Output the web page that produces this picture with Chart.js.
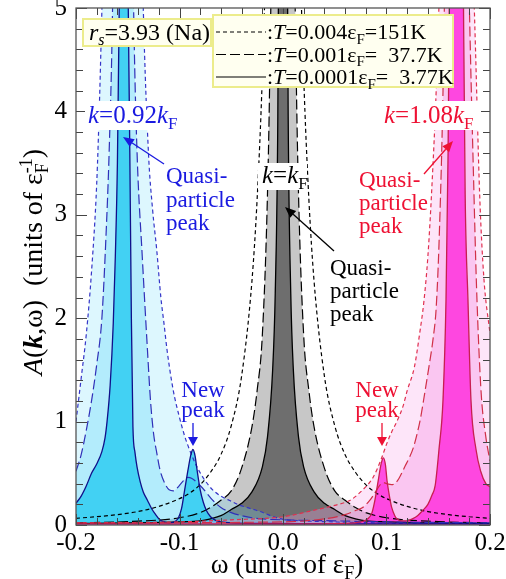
<!DOCTYPE html>
<html>
<head>
<meta charset="utf-8">
<title>Spectral function A(k,w)</title>
<style>
  body { margin: 0; background: #fff; }
  #wrap { width: 506px; height: 579px; }
</style>
<script src="https://cdn.jsdelivr.net/npm/chart.js"></script>
</head>
<body>
<div id="wrap"><canvas id="specChart" width="506" height="579"></canvas></div>
<script>
// [omega (units of eF), A (units of 1/eF)]
// k = 0.92 kF
const blueShort = [[-0.2,1.0],[-0.195,1.42],[-0.19,1.85],[-0.185,2.45],[-0.18,3.3],[-0.177,4.2],[-0.173,5.8],[-0.165,9],[-0.154,12],[-0.143,9],[-0.135,5.0],[-0.13,3.6],[-0.126,3.05],[-0.122,2.66],[-0.118,2.2],[-0.115,1.95],[-0.112,1.69],[-0.106,1.3],[-0.1,1.04],[-0.095,0.86],[-0.09,0.72],[-0.083,0.56],[-0.076,0.44],[-0.068,0.34],[-0.06,0.28],[-0.05,0.23],[-0.044,0.2],[-0.035,0.17],[-0.022,0.13],[-0.012,0.09],[0,0.055],[0.02,0.04],[0.05,0.03],[0.1,0.02],[0.2,0.015]];
const blueLong = [[-0.2,0.52],[-0.195,0.68],[-0.19,0.92],[-0.185,1.2],[-0.18,1.55],[-0.175,2.0],[-0.171,2.8],[-0.168,3.6],[-0.165,4.8],[-0.162,7],[-0.154,12],[-0.147,7],[-0.144,4.8],[-0.141,3.6],[-0.136,2.6],[-0.131,1.7],[-0.128,1.2],[-0.125,0.88],[-0.122,0.7],[-0.119,0.54],[-0.115,0.42],[-0.11,0.34],[-0.106,0.33],[-0.102,0.36],[-0.097,0.42],[-0.092,0.46],[-0.088,0.45],[-0.083,0.41],[-0.078,0.36],[-0.073,0.3],[-0.068,0.24],[-0.06,0.17],[-0.05,0.12],[-0.04,0.09],[-0.03,0.07],[-0.02,0.06],[0,0.05],[0.05,0.04],[0.1,0.03],[0.2,0.02]];
const blueSolid = [[-0.2,0.21],[-0.195,0.28],[-0.19,0.38],[-0.185,0.5],[-0.18,0.59],[-0.175,0.71],[-0.172,0.84],[-0.17,1.0],[-0.167,1.35],[-0.164,1.95],[-0.162,2.6],[-0.16,3.5],[-0.158,5.2],[-0.156,8],[-0.154,10],[-0.152,8],[-0.15,5.5],[-0.148,3.6],[-0.1465,2.0],[-0.145,0.95],[-0.143,0.7],[-0.141,0.56],[-0.138,0.42],[-0.135,0.32],[-0.131,0.24],[-0.127,0.16],[-0.123,0.1],[-0.119,0.05],[-0.115,0.03],[-0.11,0.02],[-0.105,0.03],[-0.101,0.07],[-0.098,0.16],[-0.095,0.34],[-0.092,0.52],[-0.089,0.68],[-0.087,0.73],[-0.085,0.67],[-0.083,0.53],[-0.08,0.34],[-0.077,0.22],[-0.074,0.14],[-0.07,0.08],[-0.065,0.045],[-0.06,0.03],[-0.05,0.02],[-0.02,0.015],[0.05,0.01],[0.2,0.01]];
// k = kF
const blackShort = [[-0.2,0.065],[-0.18,0.08],[-0.16,0.1],[-0.14,0.13],[-0.12,0.18],[-0.1,0.255],[-0.09,0.31],[-0.08,0.39],[-0.07,0.51],[-0.06,0.68],[-0.05,0.96],[-0.04,1.44],[-0.03,2.36],[-0.025,3.15],[-0.02,4.33],[-0.015,6.1],[-0.01,8.7],[0,13],[0.01,8.7],[0.015,6.1],[0.02,4.33],[0.025,3.15],[0.03,2.36],[0.04,1.44],[0.05,0.96],[0.06,0.68],[0.07,0.51],[0.08,0.39],[0.09,0.31],[0.1,0.255],[0.12,0.18],[0.14,0.13],[0.16,0.1],[0.18,0.08],[0.2,0.065]];
const blackLong = [[-0.2,0.02],[-0.15,0.033],[-0.1,0.07],[-0.08,0.12],[-0.07,0.17],[-0.06,0.24],[-0.05,0.33],[-0.04,0.55],[-0.03,0.95],[-0.025,1.3],[-0.02,1.83],[-0.015,3.2],[-0.0125,4.55],[-0.01,6.9],[-0.005,22],[0,40],[0.005,22],[0.01,6.9],[0.0125,4.55],[0.015,3.2],[0.02,1.83],[0.025,1.3],[0.03,0.95],[0.04,0.55],[0.05,0.33],[0.06,0.24],[0.07,0.17],[0.08,0.12],[0.1,0.07],[0.15,0.033],[0.2,0.02]];
const blackSolid = [[-0.2,0.015],[-0.15,0.02],[-0.1,0.03],[-0.08,0.04],[-0.07,0.06],[-0.06,0.09],[-0.05,0.15],[-0.04,0.21],[-0.03,0.32],[-0.02,0.56],[-0.015,0.85],[-0.01,1.5],[-0.0075,2.24],[-0.005,3.95],[-0.003,8],[0,20],[0.003,8],[0.005,3.95],[0.0075,2.24],[0.01,1.5],[0.015,0.85],[0.02,0.56],[0.03,0.32],[0.04,0.21],[0.05,0.15],[0.06,0.09],[0.07,0.06],[0.08,0.04],[0.1,0.03],[0.15,0.02],[0.2,0.015]];
// k = 1.08 kF
const redShort = [[-0.2,0.02],[-0.1,0.03],[-0.05,0.05],[0,0.08],[0.033,0.15],[0.05,0.19],[0.065,0.24],[0.075,0.32],[0.087,0.46],[0.095,0.64],[0.1,0.78],[0.105,0.9],[0.11,1.0],[0.116,1.15],[0.12,1.3],[0.127,1.53],[0.132,1.85],[0.136,2.15],[0.14,2.6],[0.144,3.3],[0.148,4.2],[0.152,5.5],[0.16,9],[0.166,12],[0.175,9],[0.182,6],[0.186,4.6],[0.19,3.2],[0.194,2.4],[0.2,1.85]];
const redLong = [[-0.2,0.02],[0,0.03],[0.04,0.06],[0.06,0.1],[0.07,0.14],[0.077,0.17],[0.084,0.24],[0.09,0.33],[0.094,0.39],[0.097,0.41],[0.1,0.4],[0.105,0.39],[0.109,0.41],[0.112,0.45],[0.118,0.57],[0.122,0.65],[0.126,0.75],[0.13,0.9],[0.133,1.04],[0.137,1.28],[0.141,1.53],[0.145,1.8],[0.148,2.1],[0.151,2.8],[0.1546,4.2],[0.158,6.5],[0.166,12],[0.175,7.5],[0.178,6],[0.181,4.6],[0.184,3.4],[0.187,2.3],[0.1913,1.3],[0.196,0.85],[0.2,0.62]];
const redSolid = [[-0.2,0.01],[0,0.01],[0.06,0.015],[0.075,0.03],[0.082,0.06],[0.086,0.12],[0.089,0.25],[0.092,0.43],[0.095,0.6],[0.097,0.65],[0.099,0.58],[0.1005,0.43],[0.103,0.27],[0.105,0.17],[0.108,0.09],[0.11,0.06],[0.115,0.04],[0.12,0.04],[0.125,0.06],[0.13,0.09],[0.135,0.14],[0.14,0.2],[0.144,0.29],[0.147,0.38],[0.1507,0.73],[0.1546,1.21],[0.1575,2.18],[0.1595,3.6],[0.161,5.5],[0.164,9],[0.168,11],[0.172,8],[0.174,5.5],[0.176,3.2],[0.1787,2.18],[0.1816,1.21],[0.1865,0.73],[0.191,0.52],[0.196,0.4],[0.2,0.37]];

const legendRows = [':T=0.004|=151K', ':T=0.001|=  37.7K', ':T=0.0001|=  3.77K'];

const FONT = '"Liberation Serif", serif';
const SHORT = [4, 3], LONG = [10, 4];

function curve(label, pts, line, dash, fillCol, order, width) {
  return {
    label: label, data: pts, borderColor: line, borderWidth: width || 1.2, borderDash: dash,
    backgroundColor: fillCol || 'rgba(0,0,0,0)', fill: fillCol ? 'origin' : false,
    pointRadius: 0, cubicInterpolationMode: 'monotone', clip: 0, order: order
  };
}

// draw text made of pieces (italic, bold, subscript, superscript)
function rich(ctx, parts, x, y, size, color, align) {
  const fnt = p => (p.i ? 'italic ' : '') + (p.b ? 'bold ' : '') +
    ((p.sub || p.sup) ? Math.round(size * 0.66) : size) + 'px ' + FONT;
  const w = parts.map(p => { ctx.font = fnt(p); return ctx.measureText(p.t).width; });
  const pos = [];
  let cx = 0;
  parts.forEach((p, k) => {
    const start = p.stack ? pos[k - 1] : cx;
    pos.push(start);
    cx = Math.max(cx, start + w[k]);
  });
  const x0 = align === 'center' ? x - cx / 2 : (align === 'right' ? x - cx : x);
  ctx.fillStyle = color; ctx.textAlign = 'left'; ctx.textBaseline = 'alphabetic';
  parts.forEach((p, k) => {
    ctx.font = fnt(p);
    const dy = p.sub ? size * 0.22 : (p.sup ? -size * 0.36 : 0);
    ctx.fillText(p.t, x0 + pos[k], y + dy);
  });
  return cx;
}

function arrow(ctx, x1, y1, x2, y2, color, head, half) {
  const a = Math.atan2(y2 - y1, x2 - x1), c = Math.cos(a), s = Math.sin(a);
  ctx.strokeStyle = color; ctx.fillStyle = color; ctx.lineWidth = 1.3; ctx.setLineDash([]);
  ctx.beginPath(); ctx.moveTo(x1, y1); ctx.lineTo(x2 - head * c, y2 - head * s); ctx.stroke();
  ctx.beginPath(); ctx.moveTo(x2, y2);
  ctx.lineTo(x2 - head * c + half * s, y2 - head * s - half * c);
  ctx.lineTo(x2 - head * c - half * s, y2 - head * s + half * c);
  ctx.closePath(); ctx.fill();
}

const frameAndNotes = {
  id: 'frameAndNotes',
  afterDatasetsDraw(chart) {
    const { ctx, chartArea: a, scales: { x, y } } = chart;
    ctx.save();
    // inner ticks on all four sides
    ctx.strokeStyle = '#444'; ctx.lineWidth = 1; ctx.setLineDash([]);
    ctx.beginPath();
    for (let i = 0; i <= 20; i++) {
      const px = Math.round(x.getPixelForValue(-0.2 + i * 0.02)) + 0.5;
      const len = i % 5 === 0 ? 11 : 7;
      ctx.moveTo(px, a.bottom); ctx.lineTo(px, a.bottom - len);
      ctx.moveTo(px, a.top); ctx.lineTo(px, a.top + len);
    }
    for (let i = 0; i <= 25; i++) {
      const py = Math.round(y.getPixelForValue(i * 0.2)) + 0.5;
      const len = i % 5 === 0 ? 11 : 7;
      ctx.moveTo(a.left, py); ctx.lineTo(a.left + len, py);
      ctx.moveTo(a.right, py); ctx.lineTo(a.right - len, py);
    }
    ctx.stroke();
    ctx.strokeStyle = '#555'; ctx.lineWidth = 1.3;
    ctx.strokeRect(a.left, a.top, a.right - a.left, a.bottom - a.top);

    // r_s box
    ctx.fillStyle = '#fffff0'; ctx.strokeStyle = '#ecec8c'; ctx.lineWidth = 2;
    ctx.fillRect(83, 19, 128, 27); ctx.strokeRect(83, 19, 128, 27);
    rich(ctx, [{ t: 'r', i: 1 }, { t: 's', i: 1, sub: 1 }, { t: '=3.93 (Na)' }], 89, 40, 24, '#000', 'left');

    // legend box
    ctx.fillStyle = '#fffff0'; ctx.strokeStyle = '#ecec8c'; ctx.lineWidth = 2;
    ctx.fillRect(213, 15, 240, 72); ctx.strokeRect(213, 15, 240, 72);
    const dashes = [SHORT, LONG, []];
    legendRows.forEach((row, k) => {
      const ly = 32 + k * 22.5;
      ctx.strokeStyle = '#000'; ctx.lineWidth = 1.1; ctx.setLineDash(dashes[k]);
      ctx.beginPath(); ctx.moveTo(216, ly); ctx.lineTo(266, ly); ctx.stroke();
      ctx.setLineDash([]);
      const bits = row.split('|');
      rich(ctx, [{ t: ':' }, { t: 'T', i: 1 }, { t: bits[0].slice(2) + 'ε' }, { t: 'F', sub: 1 }, { t: bits[1] }],
        267, ly + 7, 22, '#000', 'left');
    });

    // k labels with white backing
    ctx.fillStyle = '#fff';
    ctx.fillRect(85, 101, 108, 29);
    ctx.fillRect(258, 163, 49, 27);
    ctx.fillRect(381, 101, 100, 29);
    const blue = '#1a1ae0', red = '#ee1133';
    rich(ctx, [{ t: 'k', i: 1 }, { t: '=0.92' }, { t: 'k', i: 1 }, { t: 'F', sub: 1 }], 88, 123, 25, blue, 'left');
    rich(ctx, [{ t: 'k', i: 1 }, { t: '=' }, { t: 'k', i: 1 }, { t: 'F', sub: 1 }], 262, 183, 25, '#000', 'left');
    rich(ctx, [{ t: 'k', i: 1 }, { t: '=1.08' }, { t: 'k', i: 1 }, { t: 'F', sub: 1 }], 384, 123, 25, red, 'left');

    // quasi-particle labels
    const qp = ['Quasi-', 'particle', 'peak'];
    qp.forEach((s, k) => {
      rich(ctx, [{ t: s }], 166, 183 + k * 23.5, 23, blue, 'left');
      rich(ctx, [{ t: s }], 330, 275 + k * 23, 23, '#000', 'left');
      rich(ctx, [{ t: s }], 359, 187 + k * 23, 23, red, 'left');
    });
    arrow(ctx, 164, 164, 123, 137, blue, 11, 4.5);
    arrow(ctx, 334, 251, 285, 207, '#000', 11, 4.5);
    arrow(ctx, 424, 174, 453, 141, red, 11, 4.5);

    // new peak labels
    ['New', 'peak'].forEach((s, k) => {
      rich(ctx, [{ t: s }], 203, 397 + k * 20, 23, blue, 'center');
      rich(ctx, [{ t: s }], 377, 397 + k * 20, 23, red, 'center');
    });
    arrow(ctx, 193, 423, 193, 446, blue, 9, 5);
    arrow(ctx, 382, 423, 382, 446, red, 9, 5);

    // axis titles
    rich(ctx, [{ t: 'ω (units of ε' }, { t: 'F', sub: 1 }, { t: ')' }], 287, 573, 27, '#000', 'center');
    ctx.translate(42, 262); ctx.rotate(-Math.PI / 2);
    rich(ctx, [{ t: 'A', i: 1 }, { t: '(' }, { t: 'k', i: 1, b: 1 }, { t: ',ω)  (units of ε' },
      { t: 'F', sub: 1 }, { t: '-1', sup: 1, stack: 1 }, { t: ')' }], 0, 0, 28, '#000', 'center');
    ctx.restore();
  }
};

const datasets = [
  curve('kF T=0.004', blackShort, '#000', SHORT, null, 9),
  curve('kF T=0.001', blackLong, '#000', LONG, 'rgba(0,0,0,0.22)', 8),
  curve('kF T=0.0001', blackSolid, '#000', [], 'rgba(0,0,0,0.45)', 7, 1.3),
  curve('0.92 T=0.004', blueShort, '#3535c8', SHORT, 'rgba(120,225,250,0.25)', 6),
  curve('0.92 T=0.001', blueLong, '#3030b8', LONG, 'rgba(100,215,245,0.35)', 5),
  curve('0.92 T=0.0001', blueSolid, '#10108a', [], 'rgba(30,200,240,0.75)', 4, 1.3),
  curve('1.08 T=0.004', redShort, '#e03050', SHORT, 'rgba(250,170,235,0.3)', 3),
  curve('1.08 T=0.001', redLong, '#d03048', LONG, 'rgba(245,140,225,0.35)', 2),
  curve('1.08 T=0.0001', redSolid, '#c81e50', [], 'rgba(255,40,220,0.8)', 1, 1.3)
];

const tickFont = { family: FONT, size: 25 };

new Chart(document.getElementById('specChart'), {
  type: 'line',
  data: { datasets: datasets },
  options: {
    responsive: false,
    animation: false,
    events: [],
    layout: { padding: { top: 8, right: 16, left: 0, bottom: 0 } },
    plugins: {
      legend: { display: false },
      tooltip: { enabled: false },
      filler: { drawTime: 'beforeDatasetsDraw' }
    },
    scales: {
      x: {
        type: 'linear', min: -0.2, max: 0.2,
        border: { display: false },
        grid: { display: false, drawTicks: false },
        ticks: {
          stepSize: 0.1, padding: 3, color: '#000', font: tickFont, maxRotation: 0, autoSkip: false,
          callback: v => Math.abs(v) < 1e-9 ? '0.0' : v.toFixed(1)
        },
        afterFit: s => { s.height = 54; s.paddingLeft = 0; s.paddingRight = 0; }
      },
      y: {
        min: 0, max: 5,
        border: { display: false },
        grid: { display: false, drawTicks: false },
        ticks: { stepSize: 1, padding: 9, color: '#000', font: tickFont },
        afterFit: s => { s.width = 76; s.paddingTop = 0; s.paddingBottom = 0; }
      }
    }
  },
  plugins: [frameAndNotes]
});
</script>
</body>
</html>
